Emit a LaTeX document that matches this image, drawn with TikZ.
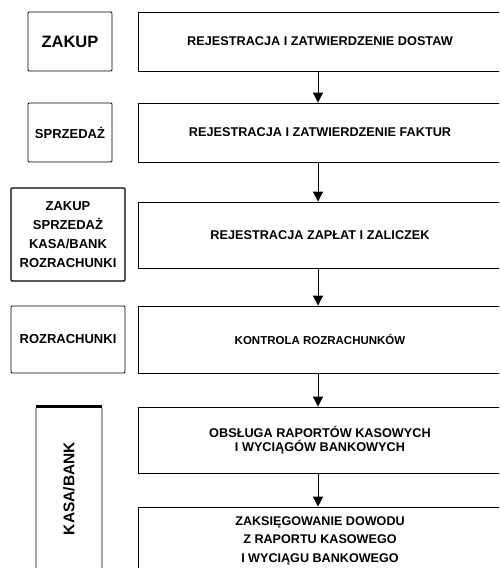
\documentclass[tikz,border=0pt]{standalone}
\usepackage{fontspec}
\setmainfont{Liberation Sans}
\usetikzlibrary{arrows.meta}

\tikzset{
  modbox/.style={draw, line width=0.8pt, rounded corners=1pt, align=center, inner sep=0pt,
    font=\bfseries\fontsize{13}{19}\selectfont},
  stagebox/.style={draw, line width=0.8pt, align=center, inner sep=0pt,
    font=\bfseries\fontsize{12.7}{14}\selectfont},
  flowarrow/.style={-{Triangle[width=10pt,length=10pt]}, line width=0.8pt}
}

\begin{document}
\begin{tikzpicture}[x=1pt, y=-1pt]
    \useasboundingbox (0,0) rectangle (499,568);
    \clip (0,0) rectangle (499,568);

    % Modules (left column)
    \node[modbox, font=\bfseries\fontsize{16.5}{19}\selectfont, minimum width=84pt, minimum height=59pt] (zakup) at (70,41.5) {ZAKUP};
    \node[modbox, minimum width=84pt, minimum height=59pt] (sprzedaz) at (70,132.5) {SPRZEDAŻ};
    \node[modbox, line width=1.3pt, minimum width=114pt, minimum height=93pt] (wszystkie) at (68,234.5)
        {ZAKUP\\SPRZEDAŻ\\KASA/BANK\\ROZRACHUNKI};
    \node[modbox, minimum width=114pt, minimum height=67pt] (rozrachunki) at (68,339.5) {ROZRACHUNKI};
    \node[modbox, font=\bfseries\fontsize{15.5}{18}\selectfont, minimum width=66pt, minimum height=163pt] (kasabank) at (69,488.5)
        {\rotatebox{90}{KASA/BANK}};
    \draw[line width=2.5pt] (kasabank.north west) -- (kasabank.north east);

    % Stages (right column)
    \node[stagebox, minimum width=364pt, minimum height=59pt] (dostawy) at (320,41.5)
        {REJESTRACJA I ZATWIERDZENIE DOSTAW};
    \node[stagebox, minimum width=364pt, minimum height=59pt] (faktury) at (320,132.5)
        {REJESTRACJA I ZATWIERDZENIE FAKTUR};
    \node[stagebox, minimum width=364pt, minimum height=66pt] (zaplaty) at (320,235)
        {REJESTRACJA ZAPŁAT I ZALICZEK};
    \node[stagebox, font=\bfseries\fontsize{11.5}{13}\selectfont, minimum width=364pt, minimum height=67pt] (kontrola) at (320,339.5)
        {KONTROLA ROZRACHUNKÓW};
    \node[stagebox, minimum width=364pt, minimum height=66pt] (raporty) at (320,440)
        {OBSŁUGA RAPORTÓW KASOWYCH\\I WYCIĄGÓW BANKOWYCH};
    \node[stagebox, font=\bfseries\fontsize{12.6}{18.5}\selectfont, minimum width=364pt, minimum height=67pt] (dowod) at (320,540.5)
        {ZAKSIĘGOWANIE DOWODU\\Z RAPORTU KASOWEGO\\I WYCIĄGU BANKOWEGO};

    % Flow
    \coordinate (oś) at (318,0);
    \draw[flowarrow] (dostawy.south -| oś) -- (faktury.north -| oś);
    \draw[flowarrow] (faktury.south -| oś) -- (zaplaty.north -| oś);
    \draw[flowarrow] (zaplaty.south -| oś) -- (kontrola.north -| oś);
    \draw[flowarrow] (kontrola.south -| oś) -- (raporty.north -| oś);
    \draw[flowarrow] (raporty.south -| oś) -- (dowod.north -| oś);
\end{tikzpicture}
\end{document}
